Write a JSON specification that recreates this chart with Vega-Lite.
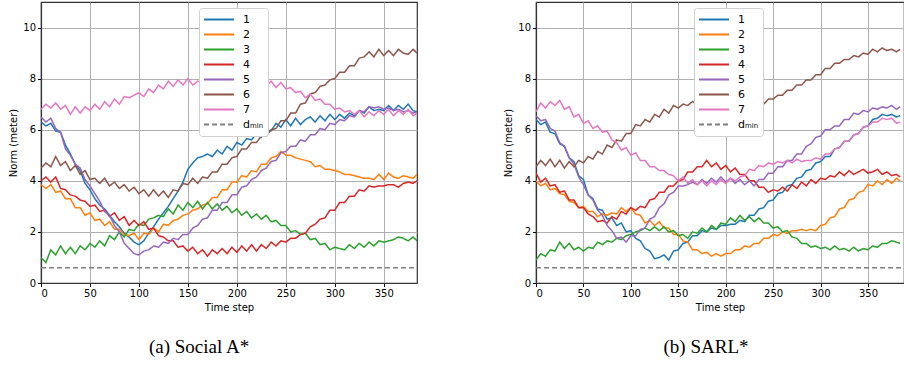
{
  "$schema": "https://vega.github.io/schema/vega-lite/v6.json",
  "background": "white",
  "padding": {"left": 8, "top": 1, "right": 0, "bottom": 0},
  "spacing": 85,
  "config": {
    "font": "DejaVu Sans",
    "view": {"stroke": "#333333", "strokeWidth": 1.2},
    "axis": {"labelFont": "DejaVu Sans", "labelFontSize": 10, "labelColor": "#000000", "titleFont": "DejaVu Sans", "titleFontSize": 10, "titleFontWeight": "normal", "titleColor": "#000000", "gridColor": "#b0b0b0", "gridWidth": 1, "tickColor": "#000000", "tickSize": 3.5, "domainColor": "#333333", "domainWidth": 1.2, "labelPadding": 2, "titlePadding": 4},
    "legend": {"fillColor": "white", "strokeColor": "#d0d0d0", "cornerRadius": 3, "padding": 4, "labelFont": "DejaVu Sans", "labelFontSize": 11, "labelColor": "#000000"},
    "title": {"font": "Liberation Serif", "fontSize": 19, "fontWeight": "normal", "color": "#000000"}
  },
  "resolve": {"scale": {"x": "independent", "y": "independent", "color": "independent", "strokeDash": "independent"}, "legend": {"color": "independent", "strokeDash": "independent"}},
  "datasets": {
    "dmin": [{"series": "dₘᵢₙ", "t": 0, "v": 0.6}, {"series": "dₘᵢₙ", "t": 400, "v": 0.6}],
    "a": [
      {"t":0,"1":6.3,"2":3.85,"3":1.0,"4":4.0,"5":6.5,"6":4.5,"7":6.8},
      {"t":5,"1":6.15,"2":3.7,"3":0.8,"4":4.15,"5":6.3,"6":4.7,"7":7.0},
      {"t":10,"1":6.25,"2":3.85,"3":1.3,"4":3.95,"5":6.45,"6":4.55,"7":6.85},
      {"t":15,"1":5.95,"2":3.55,"3":1.1,"4":4.15,"5":6.05,"6":4.95,"7":7.05},
      {"t":20,"1":5.9,"2":3.6,"3":1.45,"4":3.7,"5":5.9,"6":4.6,"7":6.8},
      {"t":25,"1":5.4,"2":3.3,"3":1.15,"4":3.65,"5":5.25,"6":4.75,"7":6.95},
      {"t":30,"1":5.05,"2":3.3,"3":1.4,"4":3.45,"5":5.0,"6":4.4,"7":6.6},
      {"t":35,"1":4.65,"2":2.95,"3":1.15,"4":3.4,"5":4.65,"6":4.6,"7":6.9},
      {"t":40,"1":4.4,"2":2.95,"3":1.45,"4":3.25,"5":4.5,"6":4.25,"7":6.65},
      {"t":45,"1":3.9,"2":2.65,"3":1.3,"4":3.2,"5":4.05,"6":4.4,"7":6.9},
      {"t":50,"1":3.65,"2":2.75,"3":1.55,"4":3.0,"5":3.8,"6":4.05,"7":6.75},
      {"t":55,"1":3.3,"2":2.45,"3":1.4,"4":3.05,"5":3.5,"6":4.1,"7":7.0},
      {"t":60,"1":3.05,"2":2.5,"3":1.65,"4":2.8,"5":3.2,"6":3.9,"7":6.8},
      {"t":65,"1":2.9,"2":2.25,"3":1.45,"4":2.85,"5":2.8,"6":4.1,"7":7.1},
      {"t":70,"1":2.65,"2":2.4,"3":1.85,"4":2.6,"5":2.65,"6":3.8,"7":6.9},
      {"t":75,"1":2.4,"2":2.1,"3":1.7,"4":2.75,"5":2.25,"6":3.95,"7":7.2},
      {"t":80,"1":2.2,"2":2.1,"3":2.0,"4":2.45,"5":2.0,"6":3.7,"7":7.0},
      {"t":85,"1":1.95,"2":1.9,"3":1.8,"4":2.6,"5":1.55,"6":3.85,"7":7.3},
      {"t":90,"1":1.8,"2":1.85,"3":2.1,"4":2.25,"5":1.35,"6":3.6,"7":7.25},
      {"t":95,"1":1.6,"2":1.95,"3":2.05,"4":2.45,"5":1.15,"6":3.75,"7":7.35},
      {"t":100,"1":1.5,"2":1.7,"3":2.3,"4":2.25,"5":1.1,"6":3.5,"7":7.45},
      {"t":105,"1":1.65,"2":1.95,"3":2.25,"4":2.4,"5":1.25,"6":3.65,"7":7.3},
      {"t":110,"1":1.95,"2":1.9,"3":2.5,"4":2.1,"5":1.3,"6":3.4,"7":7.6},
      {"t":115,"1":2.2,"2":2.15,"3":2.55,"4":2.15,"5":1.45,"6":3.65,"7":7.45},
      {"t":120,"1":2.5,"2":2.0,"3":2.65,"4":1.85,"5":1.4,"6":3.4,"7":7.75},
      {"t":125,"1":2.75,"2":2.3,"3":2.6,"4":1.8,"5":1.6,"6":3.6,"7":7.6},
      {"t":130,"1":3.0,"2":2.25,"3":2.9,"4":1.65,"5":1.55,"6":3.35,"7":7.9},
      {"t":135,"1":3.3,"2":2.45,"3":2.7,"4":1.65,"5":1.75,"6":3.65,"7":7.7},
      {"t":140,"1":3.6,"2":2.5,"3":3.05,"4":1.4,"5":1.7,"6":3.6,"7":7.95},
      {"t":145,"1":3.95,"2":2.65,"3":2.85,"4":1.45,"5":1.9,"6":3.9,"7":7.75},
      {"t":150,"1":4.45,"2":2.7,"3":3.15,"4":1.25,"5":1.9,"6":3.85,"7":8.0},
      {"t":155,"1":4.7,"2":2.85,"3":2.95,"4":1.4,"5":2.15,"6":4.1,"7":7.75},
      {"t":160,"1":4.9,"2":2.9,"3":3.2,"4":1.15,"5":2.25,"6":3.9,"7":7.9},
      {"t":165,"1":4.95,"2":3.05,"3":2.9,"4":1.3,"5":2.5,"6":4.15,"7":7.85},
      {"t":170,"1":5.05,"2":3.1,"3":3.15,"4":1.05,"5":2.55,"6":4.1,"7":7.8},
      {"t":175,"1":4.95,"2":3.35,"3":2.9,"4":1.3,"5":2.85,"6":4.35,"7":7.9},
      {"t":180,"1":5.2,"2":3.35,"3":3.1,"4":1.15,"5":2.85,"6":4.35,"7":7.85},
      {"t":185,"1":5.05,"2":3.65,"3":2.85,"4":1.35,"5":3.15,"6":4.65,"7":7.9},
      {"t":190,"1":5.35,"2":3.65,"3":3.0,"4":1.15,"5":3.15,"6":4.65,"7":7.8},
      {"t":195,"1":5.2,"2":3.95,"3":2.75,"4":1.4,"5":3.45,"6":4.9,"7":7.9},
      {"t":200,"1":5.5,"2":3.95,"3":2.9,"4":1.2,"5":3.45,"6":4.95,"7":7.85},
      {"t":205,"1":5.4,"2":4.2,"3":2.65,"4":1.45,"5":3.75,"6":5.25,"7":7.9},
      {"t":210,"1":5.65,"2":4.15,"3":2.8,"4":1.25,"5":3.8,"6":5.25,"7":7.85},
      {"t":215,"1":5.6,"2":4.4,"3":2.55,"4":1.5,"5":4.05,"6":5.5,"7":7.8},
      {"t":220,"1":5.85,"2":4.35,"3":2.7,"4":1.25,"5":4.15,"6":5.5,"7":7.9},
      {"t":225,"1":5.7,"2":4.65,"3":2.5,"4":1.5,"5":4.4,"6":5.75,"7":7.85},
      {"t":230,"1":6.0,"2":4.65,"3":2.65,"4":1.35,"5":4.5,"6":5.75,"7":7.7},
      {"t":235,"1":5.95,"2":4.9,"3":2.4,"4":1.6,"5":4.75,"6":6.0,"7":7.9},
      {"t":240,"1":6.25,"2":4.95,"3":2.45,"4":1.45,"5":4.8,"6":6.05,"7":7.65},
      {"t":245,"1":6.1,"2":5.15,"3":2.25,"4":1.65,"5":5.1,"6":6.35,"7":7.85},
      {"t":250,"1":6.4,"2":5.0,"3":2.25,"4":1.6,"5":5.15,"6":6.35,"7":7.6},
      {"t":255,"1":6.15,"2":5.0,"3":2.0,"4":1.75,"5":5.35,"6":6.65,"7":7.65},
      {"t":260,"1":6.45,"2":4.9,"3":2.05,"4":1.75,"5":5.35,"6":6.65,"7":7.45},
      {"t":265,"1":6.2,"2":4.85,"3":1.9,"4":1.9,"5":5.6,"6":7.0,"7":7.5},
      {"t":270,"1":6.4,"2":4.8,"3":1.95,"4":1.95,"5":5.55,"6":7.05,"7":7.25},
      {"t":275,"1":6.5,"2":4.75,"3":1.7,"4":2.2,"5":5.8,"6":7.4,"7":7.4},
      {"t":280,"1":6.3,"2":4.55,"3":1.75,"4":2.3,"5":5.8,"6":7.45,"7":7.15},
      {"t":285,"1":6.55,"2":4.6,"3":1.5,"4":2.5,"5":6.05,"6":7.7,"7":7.2},
      {"t":290,"1":6.35,"2":4.45,"3":1.55,"4":2.55,"5":6.0,"6":7.75,"7":7.0},
      {"t":295,"1":6.6,"2":4.45,"3":1.3,"4":2.85,"5":6.25,"6":7.95,"7":7.0},
      {"t":300,"1":6.4,"2":4.4,"3":1.4,"4":2.85,"5":6.2,"6":8.0,"7":6.8},
      {"t":305,"1":6.6,"2":4.35,"3":1.35,"4":3.15,"5":6.4,"6":8.25,"7":6.85},
      {"t":310,"1":6.45,"2":4.25,"3":1.3,"4":3.15,"5":6.35,"6":8.25,"7":6.7},
      {"t":315,"1":6.65,"2":4.25,"3":1.5,"4":3.4,"5":6.55,"6":8.5,"7":6.75},
      {"t":320,"1":6.55,"2":4.2,"3":1.35,"4":3.4,"5":6.5,"6":8.5,"7":6.6},
      {"t":325,"1":6.75,"2":4.15,"3":1.55,"4":3.65,"5":6.75,"6":8.8,"7":6.75},
      {"t":330,"1":6.65,"2":4.1,"3":1.4,"4":3.6,"5":6.7,"6":8.85,"7":6.5},
      {"t":335,"1":6.9,"2":4.1,"3":1.6,"4":3.8,"5":6.9,"6":9.05,"7":6.7},
      {"t":340,"1":6.75,"2":4.05,"3":1.45,"4":3.75,"5":6.85,"6":8.85,"7":6.55},
      {"t":345,"1":6.8,"2":4.25,"3":1.65,"4":3.8,"5":6.9,"6":9.15,"7":6.75},
      {"t":350,"1":6.75,"2":4.05,"3":1.6,"4":3.8,"5":6.8,"6":8.9,"7":6.6},
      {"t":355,"1":6.95,"2":4.3,"3":1.65,"4":3.85,"5":6.85,"6":9.1,"7":6.8},
      {"t":360,"1":6.75,"2":4.15,"3":1.7,"4":3.85,"5":6.75,"6":8.9,"7":6.55},
      {"t":365,"1":6.95,"2":4.1,"3":1.8,"4":3.75,"5":6.8,"6":9.15,"7":6.75},
      {"t":370,"1":6.8,"2":4.2,"3":1.75,"4":3.9,"5":6.7,"6":9.0,"7":6.6},
      {"t":375,"1":7.0,"2":4.15,"3":1.65,"4":3.95,"5":6.75,"6":8.95,"7":6.8},
      {"t":380,"1":6.75,"2":4.1,"3":1.8,"4":3.9,"5":6.65,"6":9.15,"7":6.55},
      {"t":384,"1":6.7,"2":4.25,"3":1.65,"4":4.0,"5":6.7,"6":9.0,"7":6.65}
    ],
    "b": [
      {"t":0,"1":6.4,"2":4.0,"3":0.9,"4":4.3,"5":6.55,"6":4.55,"7":6.7},
      {"t":5,"1":6.2,"2":3.8,"3":1.15,"4":3.95,"5":6.35,"6":4.8,"7":7.05},
      {"t":10,"1":6.3,"2":3.9,"3":1.05,"4":4.1,"5":6.4,"6":4.6,"7":6.85},
      {"t":15,"1":5.9,"2":3.65,"3":1.3,"4":3.8,"5":6.05,"6":4.85,"7":7.1},
      {"t":20,"1":5.85,"2":3.7,"3":1.25,"4":3.85,"5":5.95,"6":4.55,"7":6.95},
      {"t":25,"1":5.45,"2":3.5,"3":1.6,"4":3.55,"5":5.5,"6":4.8,"7":7.15},
      {"t":30,"1":5.35,"2":3.45,"3":1.35,"4":3.6,"5":5.35,"6":4.5,"7":6.8},
      {"t":35,"1":4.9,"2":3.2,"3":1.55,"4":3.25,"5":4.9,"6":4.75,"7":6.9},
      {"t":40,"1":4.75,"2":3.15,"3":1.3,"4":3.25,"5":4.65,"6":4.55,"7":6.5},
      {"t":45,"1":4.2,"2":2.95,"3":1.4,"4":2.95,"5":4.15,"6":4.8,"7":6.6},
      {"t":50,"1":4.05,"2":3.0,"3":1.25,"4":2.95,"5":3.85,"6":4.7,"7":6.25},
      {"t":55,"1":3.45,"2":2.8,"3":1.4,"4":2.7,"5":3.45,"6":4.95,"7":6.35},
      {"t":60,"1":3.3,"2":2.8,"3":1.35,"4":2.6,"5":3.25,"6":4.85,"7":6.05},
      {"t":65,"1":2.9,"2":2.6,"3":1.6,"4":2.4,"5":2.85,"6":5.15,"7":6.15},
      {"t":70,"1":2.85,"2":2.7,"3":1.5,"4":2.45,"5":2.65,"6":5.05,"7":5.9},
      {"t":75,"1":2.5,"2":2.65,"3":1.65,"4":2.35,"5":2.25,"6":5.4,"7":5.95},
      {"t":80,"1":2.55,"2":2.75,"3":1.6,"4":2.6,"5":2.05,"6":5.3,"7":5.6},
      {"t":85,"1":2.25,"2":2.7,"3":1.75,"4":2.5,"5":1.75,"6":5.6,"7":5.5},
      {"t":90,"1":2.35,"2":2.95,"3":1.7,"4":2.8,"5":1.8,"6":5.55,"7":5.2},
      {"t":95,"1":2.0,"2":2.8,"3":1.85,"4":2.7,"5":1.6,"6":5.85,"7":5.3},
      {"t":100,"1":2.05,"2":2.95,"3":1.9,"4":2.95,"5":1.85,"6":5.85,"7":5.0},
      {"t":105,"1":1.75,"2":2.7,"3":2.0,"4":2.85,"5":1.85,"6":6.2,"7":5.1},
      {"t":110,"1":1.65,"2":2.65,"3":2.05,"4":3.0,"5":2.1,"6":6.15,"7":4.8},
      {"t":115,"1":1.35,"2":2.35,"3":2.15,"4":2.95,"5":2.15,"6":6.4,"7":4.8},
      {"t":120,"1":1.25,"2":2.45,"3":2.05,"4":3.25,"5":2.5,"6":6.3,"7":4.55},
      {"t":125,"1":0.95,"2":2.25,"3":2.2,"4":3.3,"5":2.6,"6":6.6,"7":4.55},
      {"t":130,"1":1.0,"2":2.4,"3":2.05,"4":3.55,"5":2.95,"6":6.5,"7":4.4},
      {"t":135,"1":1.1,"2":2.15,"3":2.2,"4":3.55,"5":3.1,"6":6.8,"7":4.4},
      {"t":140,"1":0.9,"2":2.15,"3":2.0,"4":3.8,"5":3.45,"6":6.65,"7":4.25},
      {"t":145,"1":1.25,"2":1.9,"3":2.05,"4":3.8,"5":3.55,"6":6.95,"7":4.2},
      {"t":150,"1":1.3,"2":1.9,"3":1.85,"4":4.0,"5":3.8,"6":6.85,"7":4.0},
      {"t":155,"1":1.55,"2":1.65,"3":1.9,"4":4.05,"5":3.8,"6":7.0,"7":4.15},
      {"t":160,"1":1.6,"2":1.6,"3":1.75,"4":4.35,"5":3.85,"6":6.95,"7":3.9},
      {"t":165,"1":1.85,"2":1.3,"3":2.0,"4":4.35,"5":3.95,"6":7.1,"7":4.05},
      {"t":170,"1":1.85,"2":1.3,"3":1.95,"4":4.55,"5":3.85,"6":7.0,"7":3.85},
      {"t":175,"1":2.05,"2":1.15,"3":2.15,"4":4.55,"5":4.05,"6":7.1,"7":4.0},
      {"t":180,"1":2.0,"2":1.2,"3":2.0,"4":4.8,"5":3.9,"6":7.0,"7":3.8},
      {"t":185,"1":2.15,"2":1.05,"3":2.25,"4":4.55,"5":4.1,"6":7.15,"7":4.0},
      {"t":190,"1":2.1,"2":1.15,"3":2.1,"4":4.7,"5":3.95,"6":7.05,"7":3.85},
      {"t":195,"1":2.25,"2":1.05,"3":2.35,"4":4.45,"5":4.15,"6":7.1,"7":4.05},
      {"t":200,"1":2.25,"2":1.15,"3":2.3,"4":4.6,"5":3.95,"6":7.0,"7":3.9},
      {"t":205,"1":2.3,"2":1.15,"3":2.55,"4":4.35,"5":4.1,"6":7.15,"7":4.1},
      {"t":210,"1":2.3,"2":1.3,"3":2.4,"4":4.5,"5":3.9,"6":7.0,"7":4.0},
      {"t":215,"1":2.45,"2":1.3,"3":2.65,"4":4.25,"5":4.05,"6":7.15,"7":4.15},
      {"t":220,"1":2.4,"2":1.45,"3":2.45,"4":4.25,"5":3.85,"6":7.0,"7":4.2},
      {"t":225,"1":2.65,"2":1.4,"3":2.6,"4":4.0,"5":4.0,"6":7.1,"7":4.45},
      {"t":230,"1":2.65,"2":1.55,"3":2.4,"4":4.0,"5":3.8,"6":6.95,"7":4.4},
      {"t":235,"1":2.9,"2":1.55,"3":2.55,"4":3.75,"5":4.05,"6":7.05,"7":4.6},
      {"t":240,"1":2.95,"2":1.75,"3":2.35,"4":3.75,"5":4.05,"6":7.0,"7":4.55},
      {"t":245,"1":3.2,"2":1.75,"3":2.35,"4":3.55,"5":4.3,"6":7.2,"7":4.7},
      {"t":250,"1":3.25,"2":1.9,"3":2.15,"4":3.65,"5":4.3,"6":7.2,"7":4.65},
      {"t":255,"1":3.5,"2":1.85,"3":2.2,"4":3.6,"5":4.55,"6":7.35,"7":4.75},
      {"t":260,"1":3.55,"2":2.0,"3":2.0,"4":3.75,"5":4.55,"6":7.35,"7":4.7},
      {"t":265,"1":3.8,"2":1.95,"3":2.05,"4":3.6,"5":4.8,"6":7.55,"7":4.8},
      {"t":270,"1":3.85,"2":2.05,"3":1.8,"4":3.85,"5":4.8,"6":7.55,"7":4.7},
      {"t":275,"1":4.1,"2":2.05,"3":1.75,"4":3.7,"5":5.05,"6":7.75,"7":4.85},
      {"t":280,"1":4.15,"2":2.1,"3":1.55,"4":3.95,"5":5.05,"6":7.75,"7":4.75},
      {"t":285,"1":4.4,"2":2.05,"3":1.55,"4":3.8,"5":5.35,"6":7.95,"7":4.8},
      {"t":290,"1":4.45,"2":2.1,"3":1.4,"4":4.05,"5":5.45,"6":7.95,"7":4.8},
      {"t":295,"1":4.7,"2":2.05,"3":1.45,"4":3.9,"5":5.7,"6":8.15,"7":4.9},
      {"t":300,"1":4.75,"2":2.25,"3":1.35,"4":4.1,"5":5.75,"6":8.15,"7":4.85},
      {"t":305,"1":4.95,"2":2.3,"3":1.4,"4":4.05,"5":6.0,"6":8.4,"7":5.05},
      {"t":310,"1":4.95,"2":2.55,"3":1.3,"4":4.2,"5":6.0,"6":8.4,"7":5.05},
      {"t":315,"1":5.25,"2":2.6,"3":1.45,"4":4.15,"5":6.15,"6":8.6,"7":5.25},
      {"t":320,"1":5.3,"2":2.9,"3":1.3,"4":4.35,"5":6.15,"6":8.6,"7":5.3},
      {"t":325,"1":5.55,"2":2.95,"3":1.35,"4":4.2,"5":6.4,"6":8.75,"7":5.55},
      {"t":330,"1":5.55,"2":3.25,"3":1.25,"4":4.4,"5":6.4,"6":8.75,"7":5.55},
      {"t":335,"1":5.8,"2":3.3,"3":1.4,"4":4.25,"5":6.65,"6":8.9,"7":5.8},
      {"t":340,"1":5.85,"2":3.55,"3":1.25,"4":4.35,"5":6.6,"6":8.85,"7":5.85},
      {"t":345,"1":6.1,"2":3.6,"3":1.35,"4":4.45,"5":6.75,"6":9.0,"7":6.1},
      {"t":350,"1":6.15,"2":3.85,"3":1.3,"4":4.3,"5":6.7,"6":8.95,"7":6.15},
      {"t":355,"1":6.4,"2":3.8,"3":1.45,"4":4.35,"5":6.85,"6":9.15,"7":6.3},
      {"t":360,"1":6.45,"2":4.0,"3":1.4,"4":4.45,"5":6.8,"6":9.05,"7":6.3},
      {"t":365,"1":6.6,"2":3.85,"3":1.55,"4":4.25,"5":6.9,"6":9.2,"7":6.45},
      {"t":370,"1":6.55,"2":4.05,"3":1.55,"4":4.35,"5":6.85,"6":9.1,"7":6.4},
      {"t":375,"1":6.6,"2":3.9,"3":1.65,"4":4.2,"5":6.95,"6":9.15,"7":6.45},
      {"t":380,"1":6.5,"2":4.1,"3":1.6,"4":4.25,"5":6.8,"6":9.05,"7":6.25},
      {"t":384,"1":6.55,"2":4.0,"3":1.55,"4":4.15,"5":6.9,"6":9.15,"7":6.3}
    ]
  },
  "hconcat": [
    {
      "width": 376,
      "height": 281,
      "title": {"text": "(a) Social A*", "orient": "bottom", "frame": "group", "anchor": "middle", "dx": -30, "offset": 25, "baseline": "top"},
      "layer": [
        {
          "data": {"name": "a"},
          "transform": [{"fold": ["1", "2", "3", "4", "5", "6", "7"], "as": ["series", "v"]}],
          "mark": {"type": "line", "strokeWidth": 1.5, "clip": true},
          "encoding": {
            "x": {"field": "t", "type": "quantitative", "scale": {"domain": [0, 384], "nice": false, "zero": false}, "axis": {"values": [0, 50, 100, 150, 200, 250, 300, 350], "title": "Time step"}},
            "y": {"field": "v", "type": "quantitative", "scale": {"domain": [0, 11], "nice": false}, "axis": {"values": [0, 2, 4, 6, 8, 10], "title": "Norm (meter)"}},
            "color": {"field": "series", "type": "nominal", "scale": {"domain": ["1", "2", "3", "4", "5", "6", "7", "dₘᵢₙ"], "range": ["#1f77b4", "#ff7f0e", "#2ca02c", "#d62728", "#9467bd", "#8c564b", "#e377c2", "#7f7f7f"]}, "legend": {"title": null, "orient": "none", "legendX": 158, "legendY": 6, "symbolType": "stroke", "symbolSize": 900, "symbolStrokeWidth": 2, "rowPadding": 0, "labelOffset": 8, "clipHeight": 15}},
            "strokeDash": {"field": "series", "type": "nominal", "scale": {"domain": ["1", "2", "3", "4", "5", "6", "7", "dₘᵢₙ"], "range": [[1, 0], [1, 0], [1, 0], [1, 0], [1, 0], [1, 0], [1, 0], [5, 3]]}, "legend": {"title": null, "orient": "none", "legendX": 158, "legendY": 6, "symbolType": "stroke", "symbolSize": 900, "symbolStrokeWidth": 2, "rowPadding": 0, "labelOffset": 8, "clipHeight": 15}}
          }
        },
        {
          "data": {"name": "dmin"},
          "mark": {"type": "line", "strokeWidth": 1.5, "clip": true},
          "encoding": {
            "x": {"field": "t", "type": "quantitative"},
            "y": {"field": "v", "type": "quantitative"},
            "color": {"field": "series", "type": "nominal"},
            "strokeDash": {"field": "series", "type": "nominal"}
          }
        }
      ]
    },
    {
      "width": 368,
      "height": 281,
      "title": {"text": "(b) SARL*", "orient": "bottom", "frame": "group", "anchor": "middle", "dx": -14, "offset": 25, "baseline": "top"},
      "layer": [
        {
          "data": {"name": "b"},
          "transform": [{"fold": ["1", "2", "3", "4", "5", "6", "7"], "as": ["series", "v"]}],
          "mark": {"type": "line", "strokeWidth": 1.5, "clip": true},
          "encoding": {
            "x": {"field": "t", "type": "quantitative", "scale": {"domain": [0, 388], "nice": false, "zero": false}, "axis": {"values": [0, 50, 100, 150, 200, 250, 300, 350], "title": "Time step"}},
            "y": {"field": "v", "type": "quantitative", "scale": {"domain": [0, 11], "nice": false}, "axis": {"values": [0, 2, 4, 6, 8, 10], "title": "Norm (meter)"}},
            "color": {"field": "series", "type": "nominal", "scale": {"domain": ["1", "2", "3", "4", "5", "6", "7", "dₘᵢₙ"], "range": ["#1f77b4", "#ff7f0e", "#2ca02c", "#d62728", "#9467bd", "#8c564b", "#e377c2", "#7f7f7f"]}, "legend": {"title": null, "orient": "none", "legendX": 158, "legendY": 6, "symbolType": "stroke", "symbolSize": 900, "symbolStrokeWidth": 2, "rowPadding": 0, "labelOffset": 8, "clipHeight": 15}},
            "strokeDash": {"field": "series", "type": "nominal", "scale": {"domain": ["1", "2", "3", "4", "5", "6", "7", "dₘᵢₙ"], "range": [[1, 0], [1, 0], [1, 0], [1, 0], [1, 0], [1, 0], [1, 0], [5, 3]]}, "legend": {"title": null, "orient": "none", "legendX": 158, "legendY": 6, "symbolType": "stroke", "symbolSize": 900, "symbolStrokeWidth": 2, "rowPadding": 0, "labelOffset": 8, "clipHeight": 15}}
          }
        },
        {
          "data": {"name": "dmin"},
          "mark": {"type": "line", "strokeWidth": 1.5, "clip": true},
          "encoding": {
            "x": {"field": "t", "type": "quantitative"},
            "y": {"field": "v", "type": "quantitative"},
            "color": {"field": "series", "type": "nominal"},
            "strokeDash": {"field": "series", "type": "nominal"}
          }
        }
      ]
    }
  ]
}
